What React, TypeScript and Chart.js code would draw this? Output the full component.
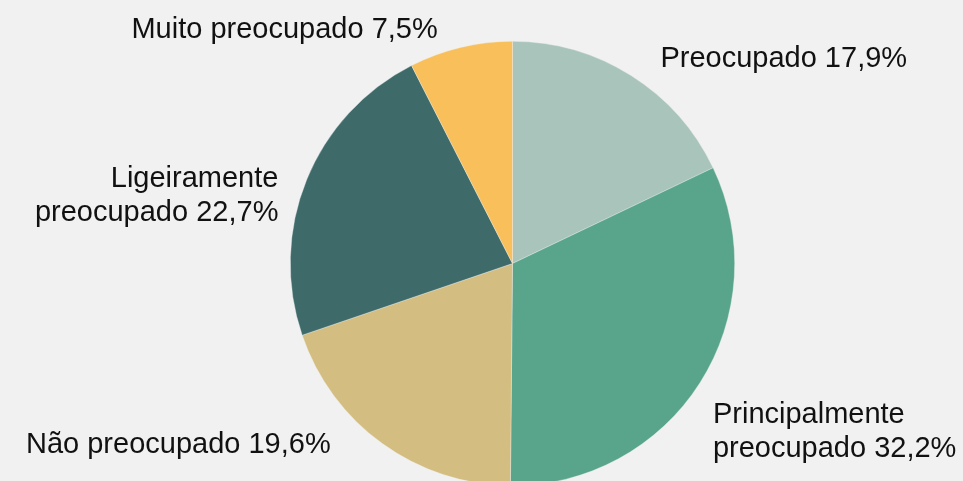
import React, { useEffect, useRef } from "react";
import { Chart, registerables } from "chart.js";

Chart.register(...registerables);

// ---- data ----
const categories: string[][] = [
  ["Preocupado"],
  ["Principalmente", "preocupado"],
  ["Não preocupado"],
  ["Ligeiramente", "preocupado"],
  ["Muito preocupado"],
];
const shares: number[] = [17.9, 32.2, 19.6, 22.7, 7.5];
const sliceColors: string[] = ["#a9c5bb", "#58a58c", "#d3bd80", "#3e6b6a", "#f9bf5a"];

// ---- label styling / placement tweaks (text only) ----
const FONT_SIZE = 29;
const LINE_H = 34;
const LABEL_GAP = 25;
const labelNudges: [number, number][] = [
  [16, 2],
  [-8, 33],
  [-37, -21],
  [-5, 23],
  [-17, 4],
];

const fmt = (v: number) => v.toFixed(1).replace(".", ",") + "%";

const outsideLabels = {
  id: "outsideLabels",
  afterDraw(chart: any) {
    const ctx = chart.ctx;
    const meta = chart.getDatasetMeta(0);
    ctx.save();
    ctx.font = `${FONT_SIZE}px "Liberation Sans", Arial, Helvetica, sans-serif`;
    ctx.fillStyle = "#111111";
    ctx.textBaseline = "alphabetic";
    const capH = FONT_SIZE * 0.716;
    meta.data.forEach((arc: any, i: number) => {
      const { x, y, startAngle, endAngle, outerRadius } = arc.getProps(
        ["x", "y", "startAngle", "endAngle", "outerRadius"],
        true
      );
      const mid = (startAngle + endAngle) / 2;
      const R = outerRadius + LABEL_GAP;
      const ax = x + Math.cos(mid) * R + labelNudges[i][0];
      const ay = y + Math.sin(mid) * R + labelNudges[i][1];
      const lines = [...categories[i]];
      lines[lines.length - 1] = lines[lines.length - 1] + " " + fmt(shares[i]);
      const n = lines.length;
      const firstBase = ay - ((n - 1) * LINE_H - capH) / 2;
      ctx.textAlign = Math.cos(mid) >= 0 ? "left" : "right";
      lines.forEach((ln, k) => ctx.fillText(ln, ax, firstBase + k * LINE_H));
    });
    ctx.restore();
  },
};

export default function App() {
  const ref = useRef<HTMLCanvasElement | null>(null);
  useEffect(() => {
    document.body.style.margin = "0";
    document.body.style.background = "#f1f1f1";
    const canvas = ref.current!;
    const chart = new Chart(canvas, {
      type: "pie",
      data: {
        labels: categories.map((c) => c.join(" ")),
        datasets: [
          {
            data: shares,
            backgroundColor: sliceColors,
            borderColor: "rgba(241,241,241,0.6)",
            borderWidth: 0.6,
          },
        ],
      },
      options: {
        responsive: false,
        animation: false,
        devicePixelRatio: 1,
        layout: { padding: { left: 290, right: 228, top: 41, bottom: 44 } },
        plugins: {
          legend: { display: false },
          tooltip: { enabled: false },
        },
      },
      plugins: [outsideLabels],
    });
    return () => chart.destroy();
  }, []);
  return (
    <div style={{ width: 963, height: 481, overflow: "hidden", background: "#f1f1f1" }}>
      <canvas ref={ref} width={963} height={530} style={{ width: 963, height: 530, display: "block" }} />
    </div>
  );
}
